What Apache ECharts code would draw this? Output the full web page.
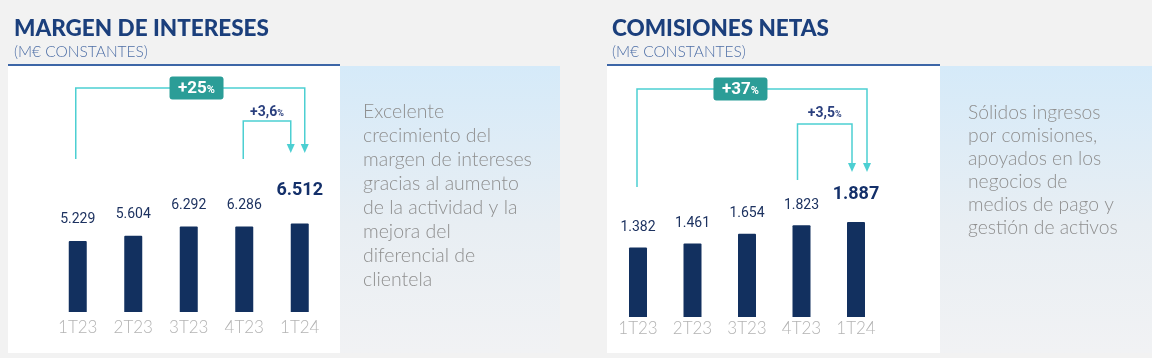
<!DOCTYPE html>
<html>
<head>
<meta charset="utf-8">
<script src="https://cdn.jsdelivr.net/npm/echarts@6/dist/echarts.min.js"></script>
<style>
html,body{margin:0;padding:0;background:#f2f2f2;}
#c{width:1152px;height:358px;}
</style>
</head>
<body>
<div id="c"></div>
<script>
// ---- DATA ----
const categories = ['1T23', '2T23', '3T23', '4T23', '1T24'];
const margenValues = [5229, 5604, 6292, 6286, 6512];
const comisionesValues = [1382, 1461, 1654, 1823, 1887];
const titles = ['MARGEN DE INTERESES', 'COMISIONES NETAS'];
const subtitle = '(M€ CONSTANTES)';
const yoyLabels = ['+25', '+37'];
const qoqLabels = ['+3,6', '+3,5'];
const margenText = ['Excelente', 'crecimiento del', 'margen de intereses', 'gracias al aumento', 'de la actividad y la', 'mejora del', 'diferencial de', 'clientela'];
const comisionesText = ['Sólidos ingresos', 'por comisiones,', 'apoyados en los', 'negocios de', 'medios de pago y', 'gestión de activos'];

// ---- STYLE ----
const NAVY = '#12305f';
const TEAL = '#2b9d97';
const CYAN = '#4ccfd2';
const FONT = 'Lato, "Open Sans", sans-serif';
const NUMFONT = 'Roboto, "Open Sans", sans-serif';

function fmt(n) { return String(n).replace(/\B(?=(\d{3})+(?!\d))/g, '.'); }

function buildData(values, lastDist, otherDist) {
  return values.map((v, i) => {
    if (i === values.length - 1) {
      return { value: v, label: { fontSize: 18, fontWeight: 'bold', distance: lastDist, color: '#14306a' } };
    }
    return { value: v, label: { distance: otherDist } };
  });
}

const chart = echarts.init(document.getElementById('c'), null, { renderer: 'canvas' });

const baseX = (gi, margin) => ({
  type: 'category', gridIndex: gi, data: categories,
  axisLine: { show: false }, axisTick: { show: false },
  axisLabel: { color: '#b3b3b3', fontSize: 17, fontFamily: FONT, fontWeight: 300, margin: margin }
});
const baseY = (gi, max) => ({
  type: 'value', gridIndex: gi, min: 0, max: max,
  show: false, splitLine: { show: false }
});
const baseSeries = (idx, data) => ({
  type: 'bar', xAxisIndex: idx, yAxisIndex: idx, data: data, barWidth: 18,
  itemStyle: { color: NAVY, borderRadius: [1, 1, 0, 0] },
  label: { show: true, position: 'top', color: '#1d3260', fontSize: 14, fontFamily: NUMFONT,
    formatter: p => fmt(p.value) },
  z: 5
});

chart.setOption({
  backgroundColor: '#f2f2f2',
  animation: false,
  title: [
    { text: titles[0], left: 9, top: 12, textStyle: { color: '#1b3f7c', fontSize: 22.5, fontWeight: 900, fontFamily: FONT } },
    { text: subtitle, left: 9, top: 39, textStyle: { color: '#4d6ea6', fontSize: 15.5, fontWeight: 300, fontFamily: FONT } },
    { text: titles[1], left: 607, top: 12, textStyle: { color: '#1b3f7c', fontSize: 22.5, fontWeight: 900, fontFamily: FONT } },
    { text: subtitle, left: 607, top: 39, textStyle: { color: '#4d6ea6', fontSize: 15.5, fontWeight: 300, fontFamily: FONT } }
  ],
  grid: [
    { left: 50, width: 277.5, top: 176, height: 136 },
    { left: 610.75, width: 272.5, top: 166, height: 151 }
  ],
  xAxis: [baseX(0, 7), baseX(1, 3)],
  yAxis: [baseY(0, 10000), baseY(1, 3000)],
  series: [
    baseSeries(0, buildData(margenValues, 24, 14)),
    baseSeries(1, buildData(comisionesValues, 19, 13))
  ]
});

// ---- annotations computed from the axes ----
function cx(axisIdx, cat) { return chart.convertToPixel({ xAxisIndex: axisIdx }, cat); }

const panels = [
  { x0: 8, x1: 340, bx1: 560, textX: 363, textTop: 100, lh: 24, fs: 19.5, lines: margenText,
    big: { y: 88, sOff: -2, eOff: 5, bottom: 159, tip: 153, badgeFrac: 0.535 },
    small: { y: 121, sOff: -1, eOff: -9, bottom: 159, tip: 153, labelY: 112 } },
  { x0: 607, x1: 940, bx1: 1152, textX: 968, textTop: 101.5, lh: 23, fs: 19.3, lines: comisionesText,
    big: { y: 89, sOff: -1, eOff: 11, bottom: 187, tip: 172, badgeFrac: 0.47 },
    small: { y: 124, sOff: -4, eOff: -4, bottom: 180, tip: 172, labelY: 113 } }
];

const graphic = [];
panels.forEach((p, i) => {
  graphic.push({ type: 'rect', z: 0, shape: { x: p.x0, y: 66, width: p.x1 - p.x0, height: 287 },
    style: { fill: '#ffffff' } });
  graphic.push({ type: 'rect', z: 0, shape: { x: p.x1, y: 66, width: p.bx1 - p.x1, height: 287 },
    style: { fill: new echarts.graphic.LinearGradient(0, 0, 0, 1, [
      { offset: 0, color: '#d5eaf9' }, { offset: 0.55, color: '#e8eef3' }, { offset: 1, color: '#f1f2f4' }]) } });
  graphic.push({ type: 'rect', z: 1, shape: { x: p.x0, y: 64, width: p.x1 - p.x0, height: 2 },
    style: { fill: '#3d66a7' } });
  graphic.push({ type: 'text', z: 3, x: p.textX, y: p.textTop,
    style: { text: p.lines.join('\n'), fill: '#8f8f8f', fontSize: p.fs, fontWeight: 300,
      fontFamily: FONT, lineHeight: p.lh, verticalAlign: 'top' } });

  const c0 = cx(i, categories[0]);
  const c3 = cx(i, categories[3]);
  const c4 = cx(i, categories[4]);

  const b = p.big;
  const bs = c0 + b.sOff, be = c4 + b.eOff;
  graphic.push({ type: 'polyline', z: 3,
    shape: { points: [[bs, b.bottom], [bs, b.y], [be, b.y], [be, b.tip - 8]] },
    style: { stroke: CYAN, lineWidth: 1.5, fill: null } });
  graphic.push({ type: 'polygon', z: 3,
    shape: { points: [[be - 4, b.tip - 9], [be + 4, b.tip - 9], [be, b.tip]] },
    style: { fill: CYAN } });
  const bcx = c0 + (c4 - c0) * b.badgeFrac;
  graphic.push({ type: 'rect', z: 4, shape: { x: bcx - 27, y: b.y - 11.5, width: 54, height: 23, r: 3 },
    style: { fill: TEAL } });
  graphic.push({ type: 'text', z: 5, x: bcx, y: b.y + 0.5,
    style: { text: '{a|' + yoyLabels[i] + '}{b|%}', align: 'center', verticalAlign: 'middle',
      rich: { a: { fontSize: 17, fontWeight: 'bold', fill: '#ffffff', fontFamily: NUMFONT },
              b: { fontSize: 11, fontWeight: 'bold', fill: '#ffffff', fontFamily: NUMFONT, padding: [4, 0, 0, 0] } } } });

  const s = p.small;
  const ss = c3 + s.sOff, se = c4 + s.eOff;
  graphic.push({ type: 'polyline', z: 3,
    shape: { points: [[ss, s.bottom], [ss, s.y], [se, s.y], [se, s.tip - 8]] },
    style: { stroke: CYAN, lineWidth: 1.5, fill: null } });
  graphic.push({ type: 'polygon', z: 3,
    shape: { points: [[se - 4, s.tip - 9], [se + 4, s.tip - 9], [se, s.tip]] },
    style: { fill: CYAN } });
  graphic.push({ type: 'text', z: 5, x: (ss + se) / 2, y: s.labelY,
    style: { text: '{a|' + qoqLabels[i] + '}{b|%}', align: 'center', verticalAlign: 'middle',
      rich: { a: { fontSize: 14, fontWeight: 'bold', fill: '#2a3f7e', fontFamily: NUMFONT },
              b: { fontSize: 9, fontWeight: 'bold', fill: '#2a3f7e', fontFamily: NUMFONT, padding: [3, 0, 0, 0] } } } });
});

chart.setOption({ graphic: graphic });
</script>
</body>
</html>
